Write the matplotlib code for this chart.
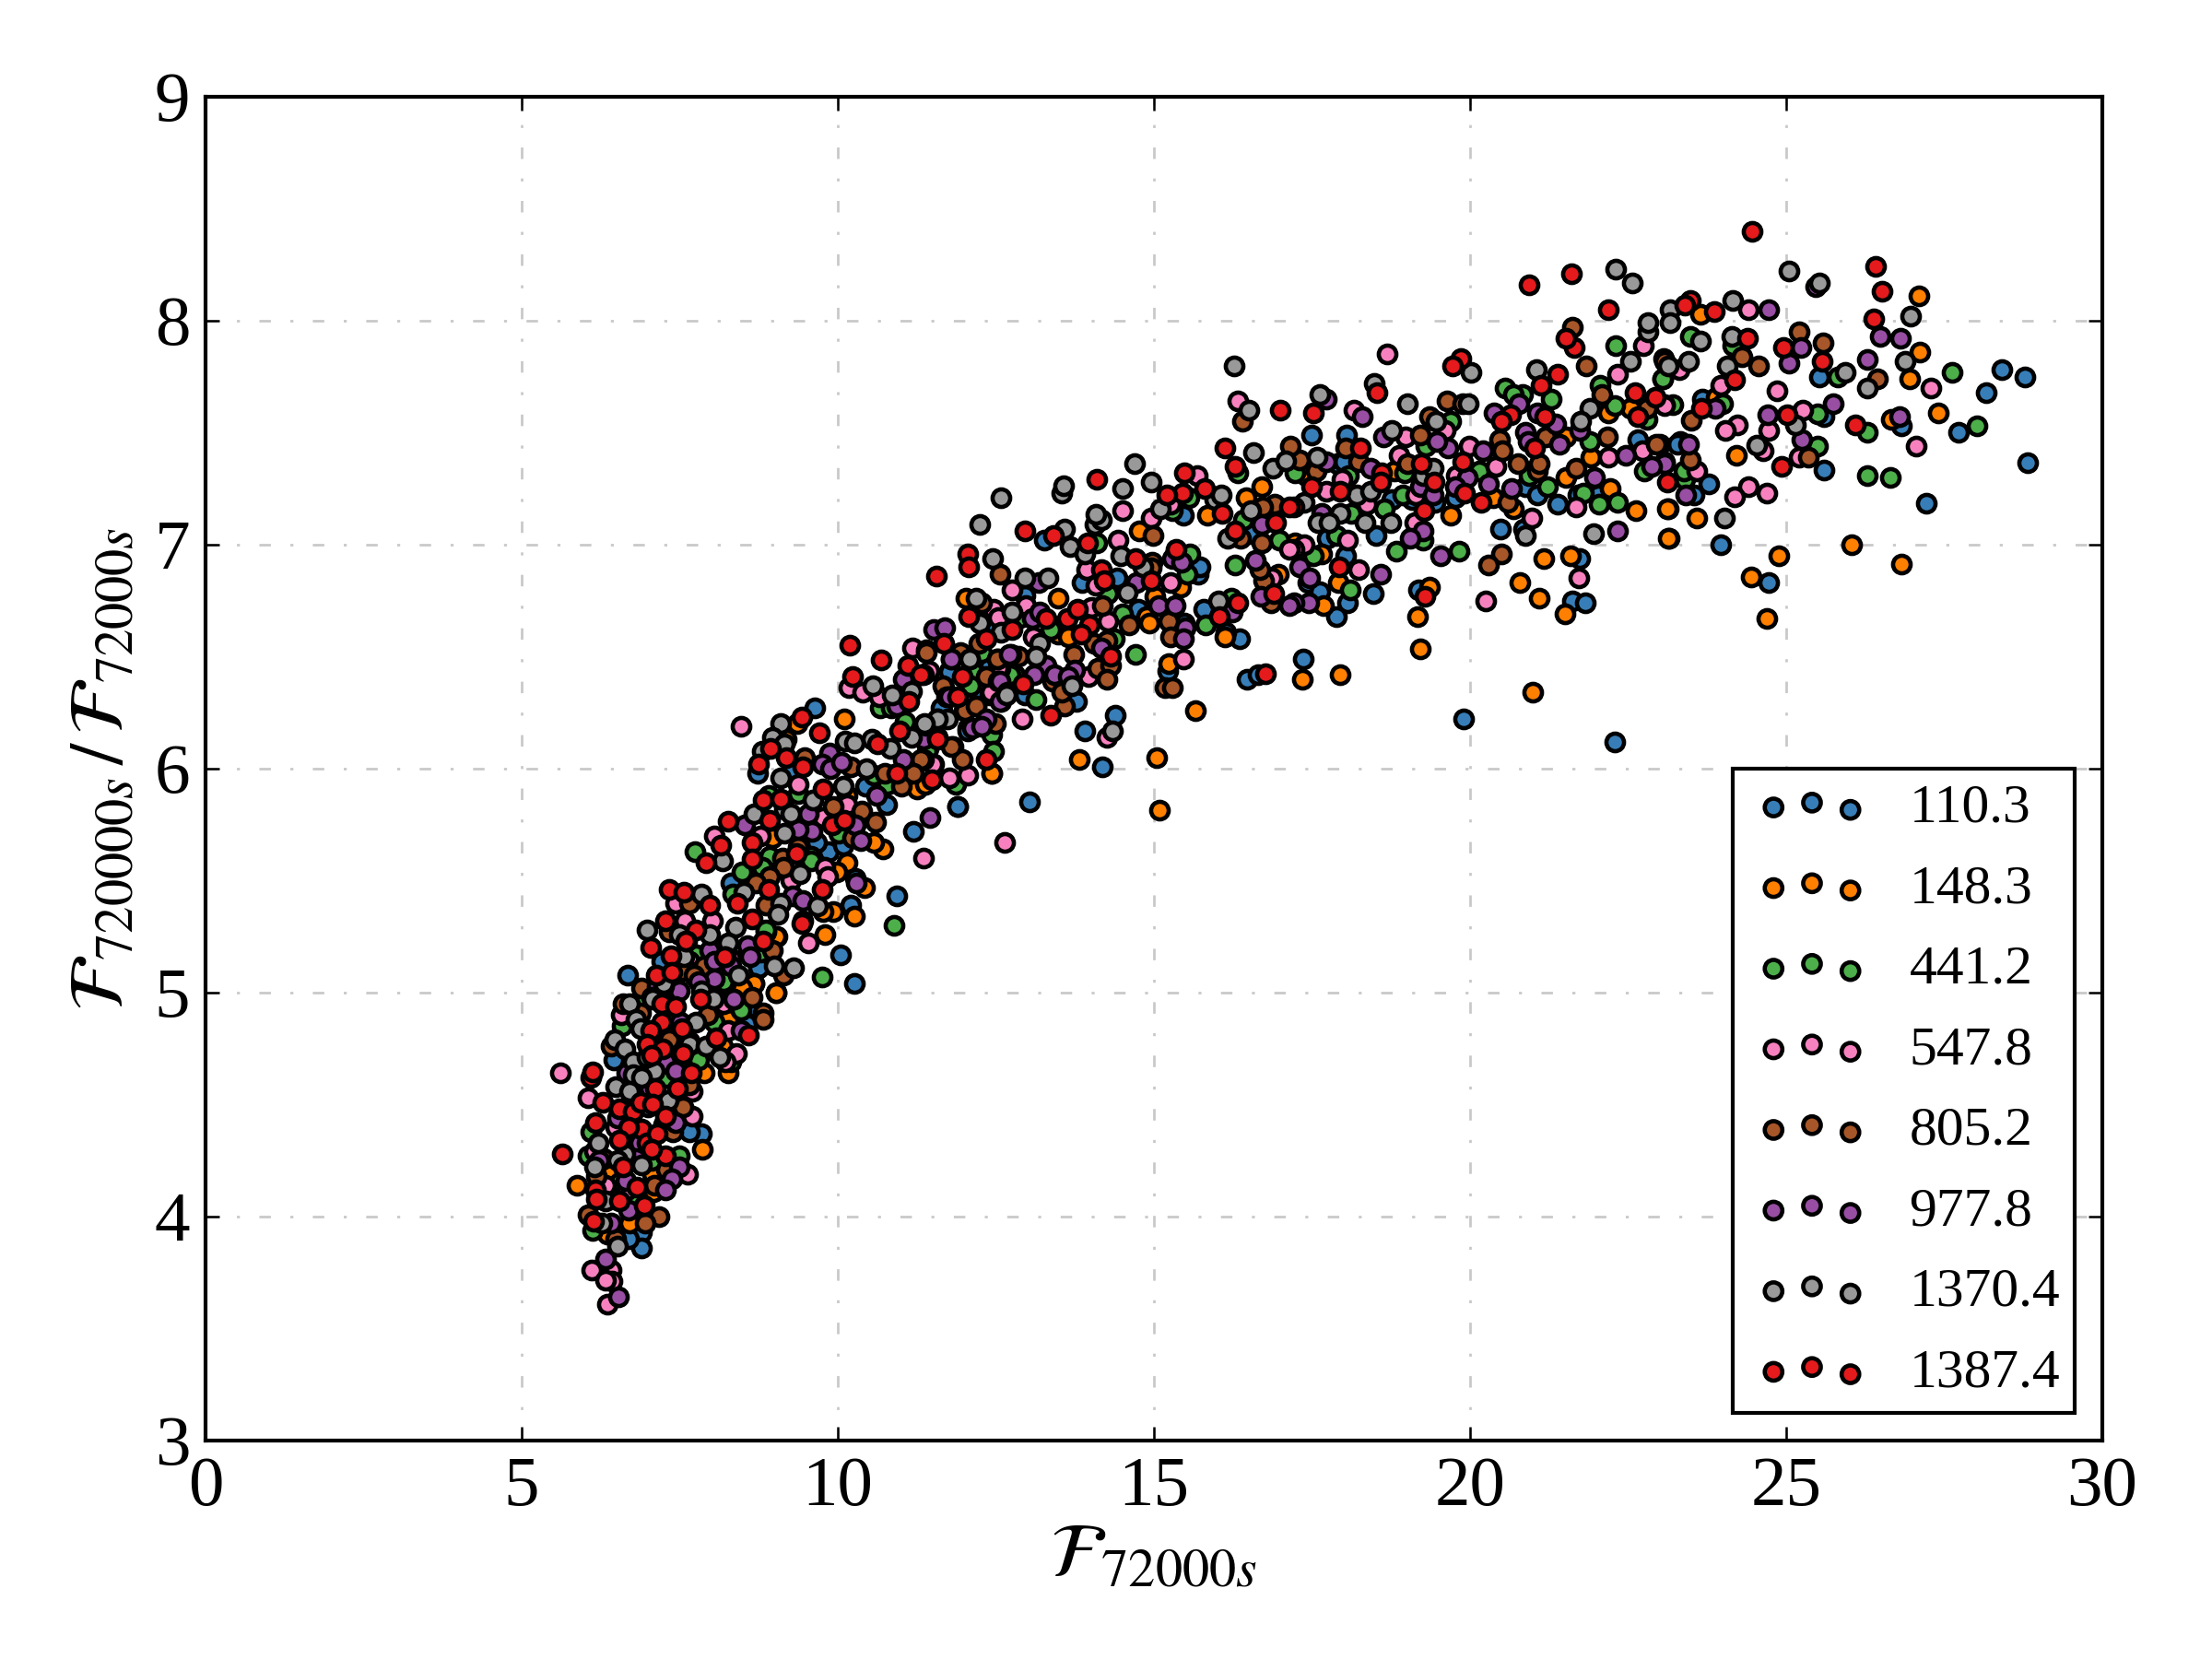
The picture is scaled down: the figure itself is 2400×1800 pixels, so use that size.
import numpy as np
import matplotlib
matplotlib.use('Agg')
import matplotlib.pyplot as plt
from matplotlib.collections import PathCollection
from matplotlib.legend_handler import HandlerPathCollection

plt.rcParams['font.family'] = ['Liberation Serif', 'DejaVu Serif']
plt.rcParams['mathtext.fontset'] = 'stix'

# (F_72000s, F_720000s / F_72000s)
pts_110 = [(28.41,7.78),(28.77,7.75),(28.16,7.68),(27.73,7.50),(28.82,7.365),(27.21,7.185),(26.83,7.53),(25.60,7.335),(25.53,7.75),(25.60,7.57),
    (23.33,7.46),(23.67,7.65),(23.78,7.27),(23.55,7.22),(23.96,7.0),(24.73,6.83),(17.50,7.49),(17.90,7.36),(18.76,7.20),(19.08,7.20),
    (19.44,7.19),(19.77,7.21),(20.88,7.26),(21.07,7.22),(21.38,7.18),(21.70,7.22),(22.02,7.22),(20.48,7.07),(20.84,7.07),(22.66,7.47),
    (17.74,7.03),(18.52,7.04),(18.03,6.95),(17.43,6.83),(17.62,6.79),(18.06,6.74),(18.47,6.78),(17.89,6.68),(19.18,6.80),(21.73,6.94),
    (21.62,6.75),(21.83,6.74),(17.36,6.49),(23.28,7.45),(15.46,7.13),(13.27,7.02),(16.55,7.05),(13.87,6.83),(14.42,6.85),(15.70,6.87),
    (15.73,6.90),(12.96,6.775),(14.75,6.71),(15.48,6.65),(15.79,6.71),(12.44,6.63),(16.36,6.58),(16.14,6.61),(11.77,6.435),(12.25,6.39),
    (12.40,6.46),(12.96,6.33),(13.78,6.30),(12.20,6.35),(11.65,6.26),(12.05,6.18),(14.39,6.24),(13.91,6.17),(14.18,6.01),(13.03,5.85),
    (11.90,5.83),(15.22,6.435),(16.48,6.40),(16.65,6.42),(9.63,6.27),(11.89,5.83),(11.19,5.72),(10.77,5.84),(10.44,5.92),(8.73,5.98),
    (11.76,6.43),(12.20,6.35),(12.06,6.17),(9.86,5.63),(10.09,5.66),(9.66,5.67),(8.31,5.49),(10.93,5.43),(10.20,5.39),(10.04,5.17),
    (10.27,5.04),(8.75,5.11),(9.29,5.99),(10.28,5.51),(11.64,6.27),(7.25,5.12),(6.68,5.08),(7.22,5.14),(8.75,5.11),(6.46,4.70),
    (8.65,4.94),(8.56,4.86),(7.85,4.37),(7.66,4.38),(6.90,3.93),(6.90,3.86),(6.69,3.90),(7.24,4.41),(7.0,4.49),(19.90,6.22),(22.29,6.12),(18.0,7.37),(18.05,7.49)]
pts_148 = [(27.10,8.11),(27.11,7.86),(26.96,7.74),(27.40,7.59),(26.66,7.56),(23.64,8.03),(23.89,7.66),(24.21,7.40),(23.13,7.16),(23.59,7.12),
    (23.15,7.03),(24.88,6.95),(24.44,6.855),(24.69,6.67),(26.03,7.0),(26.82,6.915),(22.18,7.59),(22.54,7.61),(21.52,7.48),(21.91,7.39),
    (18.81,7.33),(17.40,7.31),(21.52,7.30),(22.22,7.25),(22.63,7.15),(23.12,7.16),(23.14,7.03),(20.37,7.21),(20.68,7.16),(19.70,7.13),
    (17.23,7.01),(17.65,6.96),(21.17,6.94),(21.59,6.95),(17.91,6.83),(17.69,6.73),(19.36,6.81),(19.17,6.68),(20.79,6.83),(21.10,6.76),
    (21.50,6.69),(19.22,6.535),(17.95,6.42),(17.35,6.40),(20.99,6.34),(16.70,7.26),(16.46,7.21),(15.85,7.13),(14.77,7.06),(13.49,6.76),
    (12.03,6.76),(16.97,6.87),(15.02,6.77),(15.43,6.81),(14.89,6.68),(14.93,6.65),(13.49,6.60),(13.64,6.59),(16.13,6.59),(15.23,6.47),
    (15.65,6.26),(15.04,6.05),(15.09,5.815),(13.82,6.04),(12.43,5.98),(11.35,5.93),(10.10,6.22),(12.43,5.98),(11.25,5.91),(11.38,5.93),
    (9.19,6.13),(9.36,6.20),(8.97,5.69),(10.71,5.64),(10.57,5.67),(10.15,5.58),(9.99,5.54),(10.42,5.47),(9.93,5.36),(10.26,5.34),
    (9.80,5.26),(9.02,5.0),(8.68,5.04),(9.04,5.25),(8.48,5.03),(9.77,5.36),(10.14,5.88),(9.02,5.0),(8.27,4.64),(7.88,4.64),
    (8.18,4.76),(8.68,5.04),(8.48,5.02),(7.86,4.30),(5.87,4.14),(6.70,3.97),(6.35,3.92),(7.07,4.19),(7.09,4.11),(6.41,4.19),
    (8.27,4.88),(9.02,5.25),(7.66,4.78)]
pts_441 = [(27.62,7.77),(23.21,7.625),(23.99,7.63),(23.05,7.74),(25.49,7.585),(28.02,7.53),(26.29,7.50),(25.50,7.44),(26.29,7.31),(26.65,7.30),
    (23.40,7.29),(23.38,7.33),(23.48,7.93),(24.15,7.89),(25.81,7.75),(22.30,7.89),(20.55,7.70),(20.83,7.67),(20.68,7.67),(21.28,7.65),
    (22.06,7.71),(23.04,7.74),(22.29,7.62),(19.70,7.55),(22.80,7.56),(19.30,7.44),(21.90,7.46),(18.08,7.31),(17.23,7.32),(18.97,7.32),
    (20.15,7.33),(21.23,7.26),(20.93,7.31),(22.75,7.33),(21.80,7.23),(22.04,7.18),(22.34,7.19),(18.93,7.22),(18.64,7.16),(18.12,7.14),
    (17.89,7.04),(17.52,6.95),(19.25,7.02),(18.83,6.97),(19.82,6.97),(18.11,6.80),(16.33,7.32),(14.10,7.01),(15.57,6.96),(15.53,6.87),
    (16.99,7.02),(16.29,6.91),(16.41,7.11),(14.27,6.78),(14.51,6.69),(14.38,6.58),(14.71,6.51),(15.82,6.64),(16.22,6.76),(15.56,7.21),
    (15.29,7.15),(13.37,6.62),(12.88,6.675),(12.28,6.52),(12.80,6.42),(12.13,6.435),(12.08,6.37),(13.13,6.31),(12.44,6.15),(12.46,6.08),
    (11.43,6.09),(11.86,5.94),(7.74,5.63),(10.89,5.30),(9.76,5.07),(10.67,6.27),(10.84,6.27),(8.92,5.61),(8.49,5.54),(8.80,5.56),
    (9.58,5.61),(9.58,5.59),(12.73,6.42),(12.10,6.37),(11.06,6.21),(11.42,6.08),(10.79,5.93),(11.86,5.93),(10.57,5.97),(8.87,5.27),
    (10.01,5.71),(8.34,5.44),(8.46,4.93),(7.76,5.17),(8.90,5.88),(9.38,5.89),(8.22,5.04),(6.90,4.96),(6.59,4.85),(7.76,5.17),
    (8.22,5.04),(8.47,4.92),(8.05,4.87),(8.87,5.28),(8.78,5.18),(8.19,5.05),(7.71,4.71),(7.29,4.62),(6.09,4.38),(7.49,4.27),
    (6.05,4.27),(7.05,4.25),(6.13,3.94),(6.54,4.15),(6.76,4.09),(8.31,4.69),(7.80,4.70)]
pts_547 = [(24.41,8.05),(24.85,7.685),(23.97,7.71),(23.07,7.625),(24.23,7.535),(24.04,7.51),(24.73,7.51),(25.27,7.60),(27.29,7.70),(27.05,7.44),
    (25.20,7.39),(24.64,7.42),(23.59,7.33),(24.40,7.26),(24.19,7.215),(24.70,7.23),(23.31,7.78),(18.69,7.85),(18.16,7.60),(22.74,7.89),
    (22.33,7.76),(23.08,7.62),(19.61,7.51),(18.98,7.48),(18.88,7.40),(19.98,7.44),(20.41,7.35),(19.78,7.31),(22.18,7.39),(22.73,7.42),
    (17.98,7.29),(17.72,7.24),(18.37,7.18),(19.14,7.22),(21.67,7.17),(20.97,7.12),(19.12,7.10),(18.06,7.02),(17.37,7.0),(17.21,6.98),
    (18.23,6.89),(21.72,6.85),(20.25,6.75),(15.68,7.31),(14.51,7.15),(14.95,7.12),(15.27,7.18),(14.43,7.02),(13.94,6.89),(14.08,6.82),
    (15.27,6.83),(12.75,6.80),(12.46,6.71),(12.54,6.675),(12.98,6.73),(14.01,6.72),(14.27,6.66),(13.09,6.59),(15.46,6.49),(16.87,6.85),
    (11.45,6.435),(12.57,6.45),(13.96,6.41),(12.40,6.33),(12.92,6.22),(11.52,6.02),(11.76,5.96),(12.05,5.97),(14.26,6.14),(12.64,5.67),
    (11.35,5.60),(17.14,6.98),(8.47,6.19),(10.18,6.36),(10.39,6.34),(9.37,5.93),(9.77,5.78),(8.05,5.70),(8.78,5.70),(7.44,5.40),
    (7.58,5.32),(8.02,5.32),(9.53,5.22),(9.80,5.56),(9.84,5.52),(9.26,5.50),(11.50,6.02),(8.27,5.14),(8.19,4.95),(7.68,5.12),
    (10.65,6.32),(10.14,5.84),(11.18,6.54),(12.42,6.34),(12.54,6.45),(5.62,4.64),(6.05,4.53),(6.58,4.90),(8.27,4.83),(8.40,4.73),
    (8.22,4.69),(7.70,4.56),(7.70,4.45),(7.62,4.19),(6.11,3.76),(6.41,3.76),(6.43,3.71),(6.32,3.715),(6.36,3.61),(6.49,4.40),
    (7.27,4.82),(6.15,4.29),(6.32,4.14),(6.66,4.12),(7.66,5.14),(8.31,5.15),(16.33,7.64)]
pts_805 = [(25.21,7.95),(25.58,7.90),(24.30,7.84),(24.56,7.80),(26.44,7.74),(23.50,7.555),(25.35,7.39),(23.48,7.38),(23.0,7.45),(23.06,7.83),
    (21.62,7.97),(21.84,7.80),(22.09,7.67),(19.64,7.64),(19.88,7.63),(19.36,7.57),(23.08,7.82),(22.80,7.61),(19.21,7.49),(20.47,7.47),
    (20.51,7.42),(21.19,7.48),(22.17,7.48),(22.95,7.45),(18.03,7.43),(18.24,7.37),(17.31,7.38),(17.57,7.33),(19.01,7.36),(20.76,7.36),
    (21.07,7.33),(21.68,7.34),(21.10,7.36),(20.60,7.19),(20.49,6.96),(20.29,6.91),(17.16,7.44),(16.91,7.18),(16.72,7.17),(16.71,7.01),
    (16.37,7.03),(14.98,7.04),(14.97,6.92),(14.95,6.895),(12.57,6.87),(12.28,6.74),(14.19,6.73),(14.61,6.64),(15.23,6.66),(15.27,6.59),
    (16.73,6.84),(16.68,6.89),(16.85,6.74),(12.23,6.56),(11.40,6.53),(11.94,6.52),(12.52,6.49),(12.86,6.50),(13.73,6.51),(14.06,6.56),
    (14.25,6.57),(14.11,6.45),(14.32,6.46),(14.26,6.40),(13.39,6.39),(13.58,6.28),(13.54,6.34),(11.67,6.36),(12.18,6.28),(12.00,6.26),
    (12.50,6.20),(11.82,6.10),(11.97,6.04),(11.35,6.04),(15.18,6.36),(15.29,6.36),(11.40,6.52),(12.52,6.49),(11.66,6.37),(12.01,6.26),
    (12.18,6.28),(11.80,6.10),(11.31,6.04),(11.20,5.98),(10.74,5.98),(11.01,5.92),(10.21,6.01),(9.48,6.05),(9.93,5.83),(10.38,5.81),
    (10.60,5.76),(10.23,5.69),(9.37,5.65),(9.12,5.60),(9.14,5.56),(8.92,5.52),(8.70,5.49),(7.66,5.40),(8.87,5.39),(8.97,5.19),
    (7.71,5.09),(7.88,5.12),(8.65,4.98),(8.82,4.91),(7.51,5.10),(12.35,6.41),(6.90,5.02),(6.42,4.76),(7.53,5.10),(7.72,5.08),
    (9.14,5.08),(8.82,4.88),(7.95,4.90),(6.88,4.91),(7.34,4.79),(7.55,4.49),(7.39,4.38),(7.66,4.59),(6.30,4.26),(7.29,4.21),
    (7.10,4.14),(7.17,4.0),(6.95,3.97),(6.05,4.01),(6.49,3.90),(7.34,5.27),(6.18,4.18),(6.61,4.95),(16.40,7.55)]
pts_977 = [(25.47,8.15),(24.72,8.05),(26.49,7.93),(26.81,7.92),(26.29,7.825),(25.24,7.88),(25.05,7.81),(25.75,7.63),(23.88,7.61),(24.71,7.58),
    (25.25,7.47),(26.79,7.57),(23.46,7.45),(23.07,7.37),(23.41,7.22),(17.72,7.65),(18.29,7.57),(18.63,7.48),(20.38,7.59),(20.77,7.63),
    (21.07,7.59),(21.36,7.54),(20.88,7.50),(20.92,7.46),(21.73,7.51),(19.65,7.43),(19.48,7.46),(20.21,7.42),(21.41,7.45),(22.46,7.40),
    (23.07,7.36),(22.87,7.35),(21.97,7.30),(17.72,7.37),(18.43,7.34),(19.95,7.30),(19.77,7.26),(20.29,7.27),(20.66,7.25),(19.22,7.26),
    (19.42,7.22),(17.66,7.14),(19.26,7.06),(19.05,7.03),(22.33,7.06),(19.53,6.95),(17.31,6.90),(18.59,6.87),(17.47,6.85),(17.45,6.74),
    (17.22,6.74),(13.18,6.83),(11.52,6.62),(11.69,6.63),(13.08,6.67),(13.20,6.70),(14.73,6.83),(15.34,6.96),(15.29,6.94),(15.44,6.92),
    (15.07,6.73),(15.34,6.73),(15.50,6.63),(15.46,6.58),(16.70,7.09),(16.61,6.93),(16.69,6.77),(17.14,6.73),(16.24,6.70),(14.17,6.54),
    (11.80,6.49),(12.74,6.51),(13.30,6.46),(13.42,6.42),(13.10,6.42),(13.74,6.44),(13.64,6.41),(12.54,6.39),(12.58,6.30),(11.72,6.32),
    (12.35,6.22),(12.13,6.18),(12.28,6.19),(11.46,5.78),(11.35,6.13),(11.79,6.49),(12.71,6.51),(11.03,6.40),(11.76,6.32),(12.57,6.39),
    (12.57,6.30),(10.94,6.28),(9.87,6.07),(9.76,6.02),(9.89,6.0),(10.06,6.03),(11.03,6.04),(10.62,5.88),(9.53,5.80),(8.53,5.75),
    (10.28,5.75),(10.37,5.68),(9.59,5.72),(9.38,5.73),(10.29,5.49),(9.28,5.43),(9.44,5.41),(8.57,5.21),(7.97,5.19),(8.61,5.16),
    (8.05,5.14),(8.05,5.06),(7.48,5.01),(8.36,4.97),(7.80,5.05),(8.31,5.12),(8.35,4.97),(7.49,5.01),(7.15,5.03),(8.47,4.83),
    (7.51,4.87),(7.27,4.69),(6.66,4.64),(7.44,4.65),(7.03,4.57),(7.44,4.42),(6.52,4.44),(6.86,4.33),(7.50,4.22),(7.38,4.17),
    (7.27,4.12),(6.65,4.16),(6.69,4.03),(6.42,3.97),(6.22,4.25),(6.33,3.81),(6.53,3.64),(6.81,4.26)]
pts_1370 = [(25.05,8.22),(25.53,8.17),(24.15,8.09),(23.16,8.05),(23.17,7.99),(23.64,7.91),(24.14,7.93),(26.97,8.02),(26.88,7.82),(26.28,7.70),
    (25.94,7.77),(23.45,7.82),(23.13,7.80),(24.07,7.80),(25.14,7.535),(24.54,7.445),(24.02,7.12),(17.63,7.67),(18.49,7.72),(19.01,7.63),
    (20.01,7.77),(19.97,7.63),(19.46,7.55),(21.05,7.78),(22.53,7.82),(22.81,7.95),(22.82,7.99),(21.90,7.61),(21.75,7.55),(18.76,7.51),
    (17.58,7.39),(18.21,7.22),(18.42,7.24),(17.38,7.19),(17.94,7.14),(17.59,7.10),(17.77,7.10),(18.34,7.10),(18.75,7.10),(19.25,7.31),
    (19.42,7.34),(21.95,7.05),(20.87,7.04),(12.58,7.21),(12.24,7.09),(13.55,7.23),(13.57,7.265),(14.69,7.36),(14.96,7.28),(14.51,7.25),
    (16.58,7.41),(16.88,7.34),(17.09,7.375),(14.07,7.09),(14.17,7.11),(14.08,7.135),(13.58,7.07),(13.68,6.99),(13.90,6.96),(12.45,6.94),
    (12.96,6.85),(13.32,6.85),(14.48,6.95),(14.82,6.90),(15.10,7.16),(15.96,7.20),(16.07,7.22),(16.53,7.15),(16.16,7.03),(14.58,6.785),
    (12.19,6.76),(12.24,6.65),(12.75,6.70),(12.58,6.61),(13.19,6.56),(13.13,6.50),(16.02,6.75),(12.08,6.49),(13.71,6.37),(12.68,6.34),
    (11.58,6.22),(11.74,6.22),(11.40,6.195),(14.34,6.17),(16.27,7.80),(9.10,6.20),(8.97,6.14),(9.15,6.11),(8.80,6.08),(10.11,6.125),
    (10.27,6.115),(10.54,6.13),(10.83,6.09),(10.56,6.37),(10.86,6.33),(11.16,6.345),(11.58,6.22),(11.37,6.20),(11.17,6.14),(12.08,6.49),
    (12.67,6.33),(9.10,5.96),(10.45,6.0),(10.09,5.92),(9.60,5.86),(8.68,5.80),(9.15,5.82),(9.26,5.80),(9.15,5.71),(8.18,5.59),
    (9.40,5.53),(7.84,5.44),(8.51,5.45),(9.09,5.40),(9.68,5.385),(9.06,5.35),(8.38,5.29),(7.98,5.26),(7.50,5.26),(6.99,5.28),
    (8.26,5.22),(8.99,5.12),(9.30,5.11),(7.57,5.16),(8.43,5.08),(7.24,5.03),(7.85,5.01),(8.03,4.97),(7.05,4.98),(7.25,5.04),
    (6.71,4.95),(7.07,4.97),(6.81,4.88),(6.88,4.84),(7.76,4.87),(6.48,4.79),(6.64,4.75),(7.66,4.77),(7.92,4.76),(8.13,4.71),
    (6.76,4.69),(6.77,4.635),(7.10,4.65),(6.98,4.71),(6.49,4.58),(6.71,4.56),(6.90,4.62),(7.32,4.52),(6.21,4.33),(6.64,4.28),
    (6.52,4.25),(6.89,4.23),(6.15,4.22),(6.32,4.07),(6.27,3.97),(6.51,3.87),(22.30,8.23),(22.57,8.17),(16.50,7.60)]
pts_1387 = [(24.46,8.40),(26.41,8.244),(26.52,8.13),(26.38,8.01),(24.96,7.88),(25.57,7.82),(24.39,7.92),(24.19,7.735),(23.66,7.61),(25.01,7.58),
    (26.09,7.535),(24.93,7.35),(23.12,7.28),(23.87,8.04),(23.49,8.09),(23.40,8.07),(17.52,7.59),(18.53,7.68),(19.86,7.83),(19.72,7.80),
    (21.13,7.71),(21.38,7.76),(21.65,7.88),(21.51,7.92),(22.18,8.05),(20.64,7.58),(20.50,7.55),(21.18,7.57),(22.61,7.68),(22.93,7.66),
    (22.66,7.57),(18.27,7.43),(19.23,7.36),(18.60,7.32),(18.58,7.28),(19.43,7.28),(17.95,7.24),(17.50,7.26),(17.21,7.17),(19.27,7.15),
    (19.89,7.37),(19.92,7.23),(20.17,7.19),(21.02,7.43),(17.93,6.90),(19.29,6.77),(20.93,8.16),(21.60,8.21),(16.12,7.43),(16.29,7.35),
    (15.48,7.32),(14.09,7.29),(12.96,7.06),(13.41,7.04),(13.95,7.01),(14.71,6.94),(12.06,6.96),(12.07,6.90),(11.56,6.86),(14.17,6.89),
    (14.21,6.84),(15.45,7.23),(15.20,7.22),(15.80,7.25),(16.08,7.14),(16.28,7.06),(16.93,7.10),(17.14,7.17),(15.35,6.98),(14.95,6.84),
    (16.32,6.74),(16.90,6.78),(16.04,6.68),(13.29,6.67),(13.63,6.67),(13.79,6.71),(13.98,6.64),(13.85,6.60),(12.07,6.68),(12.75,6.62),
    (12.35,6.58),(11.68,6.56),(14.32,6.50),(11.97,6.41),(12.93,6.38),(11.89,6.32),(13.37,6.24),(11.58,6.14),(12.35,6.04),(11.49,5.95),
    (16.76,6.425),(11.35,6.42),(10.19,6.55),(10.68,6.485),(11.11,6.46),(11.31,6.42),(10.23,6.41),(11.12,6.30),(9.43,6.23),(9.71,6.16),
    (10.63,6.11),(10.98,6.17),(11.58,6.13),(8.93,6.09),(8.75,6.02),(9.18,6.05),(9.44,6.01),(9.77,5.91),(10.94,5.98),(8.82,5.86),
    (9.09,5.865),(8.92,5.77),(8.27,5.765),(9.92,5.75),(10.10,5.77),(8.65,5.67),(8.15,5.66),(7.91,5.58),(8.64,5.595),(9.35,5.62),
    (7.33,5.46),(7.56,5.45),(8.91,5.46),(9.76,5.46),(8.41,5.40),(7.98,5.39),(8.64,5.33),(9.44,5.32),(7.27,5.32),(7.75,5.28),
    (7.61,5.23),(8.82,5.23),(7.04,5.20),(7.36,5.165),(8.22,5.16),(7.13,5.08),(7.38,5.09),(7.83,4.97),(7.22,4.95),(7.44,4.94),
    (7.60,5.23),(8.21,5.16),(9.43,5.31),(7.22,4.87),(7.04,4.83),(7.54,4.84),(8.07,4.80),(8.59,4.81),(6.99,4.77),(7.23,4.75),
    (7.55,4.73),(7.06,4.72),(7.68,4.64),(6.10,4.62),(6.13,4.645),(7.11,4.57),(7.46,4.57),(6.29,4.51),(6.54,4.48),(6.76,4.47),
    (6.88,4.51),(7.07,4.50),(7.27,4.45),(6.17,4.42),(6.90,4.39),(6.69,4.40),(6.55,4.34),(6.98,4.33),(7.15,4.37),(7.27,4.27),
    (7.05,4.30),(5.64,4.28),(6.60,4.22),(6.83,4.13),(6.16,4.12),(6.18,4.08),(6.55,4.07),(6.94,4.05),(6.14,3.98),(17.00,7.60)]

series = [pts_110, pts_148, pts_441, pts_547, pts_805, pts_977, pts_1370, pts_1387]
labels = ['110.3', '148.3', '441.2', '547.8', '805.2', '977.8', '1370.4', '1387.4']
colors = ['#377eb8', '#ff7f00', '#4daf4a', '#f781bf', '#a65628', '#984ea3', '#999999', '#e41a1c']

fig, ax = plt.subplots(figsize=(8, 6))
fig.subplots_adjust(left=0.0929, right=0.9504, top=0.9417, bottom=0.1317)

for pts, lab, col in zip(series, labels, colors):
    pts = np.array(pts)
    ax.scatter(pts[:, 0], pts[:, 1], s=21, c=col, edgecolors='k', linewidths=1.1, label=lab, zorder=3)

ax.set_xlim(0, 30)
ax.set_ylim(3, 9)
ax.set_xticks(range(0, 31, 5))
ax.set_yticks(range(3, 10))
ax.tick_params(direction='in', top=True, right=True, length=3.5, width=0.6, labelsize=18.5, pad=4)
ax.grid(True, color='#c8c8c8', lw=0.65, linestyle=(0, (4.6, 7.8, 1.2, 7.8)))
ax.set_axisbelow(True)
for sp in ax.spines.values():
    sp.set_linewidth(1)

ax.set_xlabel(r'$\mathcal{F}_{72000s}$', fontsize=20, labelpad=1)
ax.set_ylabel(r'$\mathcal{F}_{720000s}\,/\,\mathcal{F}_{72000s}$', fontsize=20, labelpad=4)

leg = ax.legend(loc='lower right', fontsize=14.3, scatterpoints=3, labelspacing=0.55,
                fancybox=False, framealpha=1, edgecolor='k', borderpad=0.27,
                handlelength=2.34, handletextpad=0.6,
                handler_map={PathCollection: HandlerPathCollection(marker_pad=0.47)})
leg.get_frame().set_linewidth(1)

fig.savefig('out.png', dpi=300)
